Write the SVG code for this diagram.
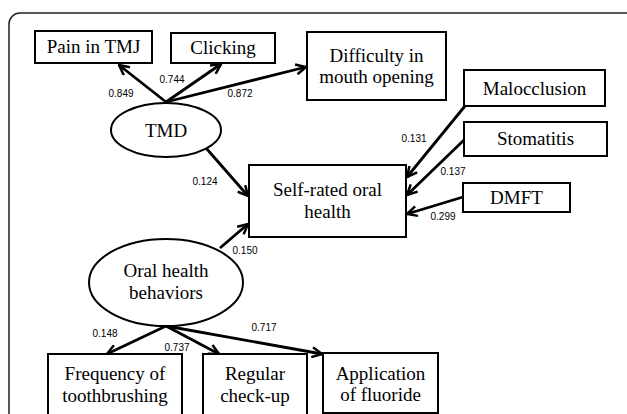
<svg xmlns="http://www.w3.org/2000/svg" width="627" height="414" viewBox="0 0 627 414">
<defs>
<marker id="arr" viewBox="0 0 12 12" refX="11" refY="6" markerWidth="12" markerHeight="12" markerUnits="userSpaceOnUse" orient="auto">
<path d="M1,1 L11,6 L1,11" fill="none" stroke="#000" stroke-width="2.5" stroke-linejoin="miter"/>
</marker>
<style>
.box{fill:#fff;stroke:#000;stroke-width:2}
.t{font-family:'Liberation Serif','Times New Roman','DejaVu Serif',serif;font-size:19px;fill:#000;text-anchor:middle}
.l{font-family:'Liberation Sans',Arial,sans-serif;font-size:10px;fill:#000;text-anchor:middle}
.c line{stroke:#000;stroke-width:2.8;marker-end:url(#arr)}
</style>
</defs>
<rect x="0" y="0" width="627" height="414" fill="#fff"/>
<rect x="9" y="13" width="640" height="420" rx="11" fill="none" stroke="#222" stroke-width="1.5"/>

<g class="c" id="connectors">
<line x1="166" y1="102" x2="119" y2="65"/>
<line x1="166" y1="102" x2="221" y2="64"/>
<line x1="166" y1="102" x2="306" y2="67"/>
<line x1="206" y1="148" x2="248" y2="196"/>
<line x1="220" y1="248" x2="248" y2="224"/>
<line x1="465" y1="106" x2="407" y2="177"/>
<line x1="464" y1="140" x2="407" y2="195"/>
<line x1="463" y1="197" x2="407" y2="214"/>
<line x1="166" y1="326" x2="107" y2="354"/>
<line x1="166" y1="326" x2="219" y2="354"/>
<line x1="166" y1="326" x2="322" y2="354"/>
</g>
<g id="labels">
<text class="l" x="121" y="97">0.849</text>
<text class="l" x="172" y="83">0.744</text>
<text class="l" x="240" y="97">0.872</text>
<text class="l" x="205" y="185">0.124</text>
<text class="l" x="414" y="142">0.131</text>
<text class="l" x="453" y="175">0.137</text>
<text class="l" x="443" y="220">0.299</text>
<text class="l" x="245" y="254">0.150</text>
<text class="l" x="105" y="337">0.148</text>
<text class="l" x="177" y="351">0.737</text>
<text class="l" x="264" y="331">0.717</text>
</g>
<g font-family="Liberation Serif, Times New Roman, serif">
<g id="pain"><rect class="box" x="35" y="31" width="117" height="32"/><text class="t" x="93.5" y="53">Pain in TMJ</text></g>
<g id="clicking"><rect class="box" x="171" y="33" width="104" height="30"/><text class="t" x="223" y="54">Clicking</text></g>
<g id="difficulty"><rect class="box" x="307" y="32" width="139" height="68"/><text class="t" x="376.5" y="62">Difficulty in</text><text class="t" x="376.5" y="83">mouth opening</text></g>
<g id="malocclusion"><rect class="box" x="464" y="70" width="141" height="36"/><text class="t" x="534.5" y="95">Malocclusion</text></g>
<g id="stomatitis"><rect class="box" x="464" y="122" width="143" height="34"/><text class="t" x="535.5" y="145">Stomatitis</text></g>
<g id="dmft"><rect class="box" x="463" y="183" width="107" height="29"/><text class="t" x="516.5" y="204">DMFT</text></g>
<g id="selfrated"><rect class="box" x="249" y="165" width="157" height="72"/><text class="t" x="327.5" y="196">Self-rated oral</text><text class="t" x="327.5" y="218">health</text></g>
<g id="tmd"><ellipse cx="166" cy="130" rx="55" ry="27" fill="#fff" stroke="#000" stroke-width="2"/><text class="t" x="166" y="137">TMD</text></g>
<g id="ohb"><ellipse cx="166" cy="282.5" rx="77" ry="43.5" fill="#fff" stroke="#000" stroke-width="2"/><text class="t" x="166" y="277">Oral health</text><text class="t" x="166" y="299">behaviors</text></g>
<g id="frequency"><rect class="box" x="48" y="354" width="134" height="70"/><text class="t" x="115" y="380">Frequency of</text><text class="t" x="115" y="402">toothbrushing</text></g>
<g id="regular"><rect class="box" x="203" y="354" width="104" height="70"/><text class="t" x="255" y="380">Regular</text><text class="t" x="255" y="402">check-up</text></g>
<g id="application"><rect class="box" x="323" y="353" width="115" height="60"/><text class="t" x="380.5" y="380">Application</text><text class="t" x="380.5" y="401">of fluoride</text></g>
</g>
</svg>
